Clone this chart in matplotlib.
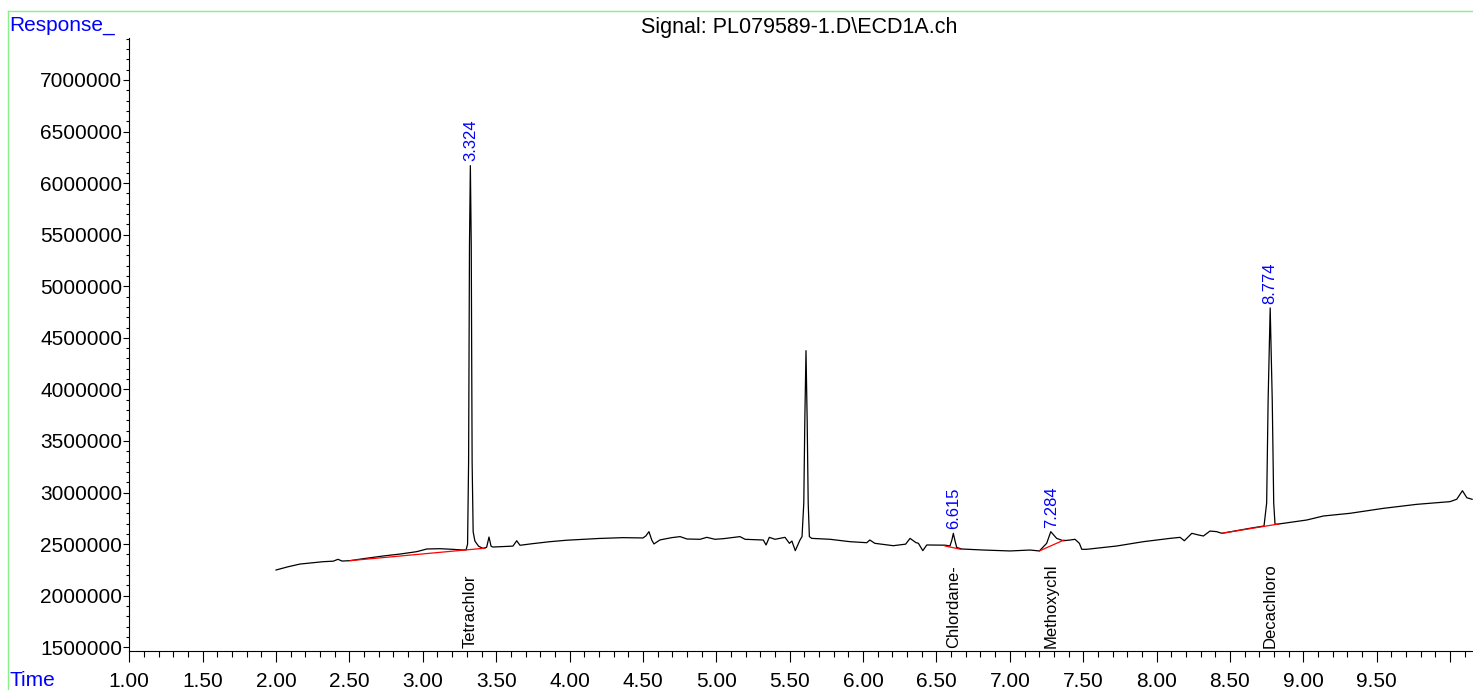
import numpy as np
import matplotlib.pyplot as plt
from matplotlib.lines import Line2D
from matplotlib.ticker import MultipleLocator, FixedLocator

plt.rcParams['font.family'] = ['Liberation Sans', 'DejaVu Sans']

# trace (time in min, response)
time = [2.000, 2.080, 2.163, 2.240, 2.322, 2.390, 2.422, 2.450, 2.504, 2.600,
        2.729, 2.850, 2.958, 3.027, 3.117, 3.200, 3.274, 3.295, 3.305, 3.312,
        3.318, 3.324, 3.330, 3.336, 3.343, 3.355, 3.380, 3.410, 3.435, 3.451,
        3.465, 3.478, 3.550, 3.614, 3.640, 3.662, 3.750, 3.867, 3.980, 4.092,
        4.200, 4.364, 4.500, 4.520, 4.541, 4.560, 4.575, 4.616, 4.696, 4.753,
        4.800, 4.889, 4.935, 4.991, 5.048, 5.161, 5.196, 5.320, 5.339, 5.361,
        5.400, 5.434, 5.468, 5.498, 5.515, 5.538, 5.570, 5.584, 5.596, 5.603,
        5.611, 5.619, 5.626, 5.634, 5.650, 5.775, 5.910, 6.025, 6.046, 6.080,
        6.206, 6.290, 6.320, 6.360, 6.377, 6.407, 6.434, 6.559, 6.592, 6.605,
        6.615, 6.625, 6.638, 6.672, 6.820, 7.001, 7.138, 7.201, 7.251, 7.279,
        7.319, 7.364, 7.410, 7.444, 7.474, 7.490, 7.524, 7.728, 7.910, 8.092,
        8.160, 8.189, 8.240, 8.285, 8.319, 8.364, 8.410, 8.444, 8.637, 8.732,
        8.750, 8.760, 8.774, 8.788, 8.798, 8.807, 8.830, 9.023, 9.137, 9.318,
        9.545, 9.773, 9.999, 10.045, 10.084, 10.114, 10.150]
response = [2249500, 2280000, 2307000, 2318000, 2330000, 2335000, 2353000, 2336000, 2340000, 2360000,
            2385000, 2405000, 2427000, 2453000, 2456000, 2450000, 2443000, 2445000, 2500000, 3300000,
            5400000, 6170000, 5400000, 3300000, 2620000, 2530000, 2480000, 2459000, 2470000, 2569000,
            2480000, 2472000, 2477000, 2481000, 2533000, 2489000, 2505000, 2524000, 2538000, 2547000,
            2555000, 2563000, 2560000, 2580000, 2621000, 2540000, 2502000, 2541000, 2563000, 2573000,
            2550000, 2547000, 2566000, 2547000, 2553000, 2573000, 2547000, 2540000, 2492000, 2566000,
            2547000, 2556000, 2566000, 2508000, 2530000, 2437000, 2540000, 2573000, 2900000, 3700000,
            4376000, 3700000, 2900000, 2573000, 2556000, 2547000, 2524000, 2514000, 2540000, 2508000,
            2485000, 2500000, 2556000, 2515000, 2508000, 2437000, 2492000, 2490000, 2482000, 2540000,
            2605000, 2540000, 2468000, 2453000, 2443000, 2434000, 2443000, 2434000, 2508000, 2621000,
            2556000, 2533000, 2540000, 2547000, 2508000, 2450000, 2450000, 2482000, 2524000, 2556000,
            2566000, 2533000, 2605000, 2589000, 2579000, 2627000, 2621000, 2605000, 2654000, 2676000,
            2900000, 3900000, 4790000, 3900000, 2900000, 2692000, 2695000, 2734000, 2773000, 2799000,
            2847000, 2886000, 2912000, 2935000, 3018000, 2950000, 2935000]

# integration baselines (start t, start y, end t, end y)
base_t0 = [2.504, 6.559, 7.201, 8.444]
base_y0 = [2340000, 2482000, 2434000, 2605000]
base_t1 = [3.424, 6.666, 7.369, 8.830]
base_y1 = [2461000, 2450000, 2540000, 2695000]

# labelled peaks
peak_rt = [3.324, 6.615, 7.284, 8.774]
peak_top = [6170000, 2605000, 2621000, 4790000]
peak_lbl = ['3.324', '6.615', '7.284', '8.774']
compounds = ['Tetrachlor', 'Chlordane-', 'Methoxychl', 'Decachloro']

W, H = 1473, 690
fig = plt.figure(figsize=(W / 100, H / 100), dpi=100)
ax = fig.add_axes([129.3 / W, (H - 650.7) / H, 1 - 129.3 / W, (650.7 - 38) / H])

ax.plot(time, response, color='black', lw=0.9)
for i in range(len(base_t0)):
    ax.plot([base_t0[i], base_t1[i]], [base_y0[i], base_y1[i]], color='red', lw=0.9)

for t, top, lbl in zip(peak_rt, peak_top, peak_lbl):
    ax.annotate(lbl, (t, top), xytext=(0, 3), textcoords='offset points',
                rotation=90, ha='center', va='bottom', color='blue', fontsize=12)
for t, name in zip(peak_rt, compounds):
    ax.text(t, 0.004, name, transform=ax.get_xaxis_transform(), rotation=90,
            ha='center', va='bottom', color='black', fontsize=12)

ax.set_xlim(1.0, 10.156)
ax.set_ylim(1467000, 7407000)

xmaj = np.arange(1.0, 10.01, 0.5)
ax.xaxis.set_major_locator(FixedLocator(xmaj))
ax.set_xticklabels(['%.2f' % v if v < 9.9 else '' for v in xmaj])
ax.xaxis.set_minor_locator(MultipleLocator(0.1))
ax.yaxis.set_major_locator(MultipleLocator(500000))
ax.yaxis.set_minor_locator(MultipleLocator(100000))
ax.yaxis.set_major_formatter(plt.FuncFormatter(lambda v, p: '%d' % v))

ax.tick_params(axis='x', which='major', length=8, width=0.8, pad=7, labelsize=15)
ax.tick_params(axis='x', which='minor', length=4, width=0.8)
ax.tick_params(axis='y', which='major', length=4, width=0.8, pad=1, labelsize=15)
ax.tick_params(axis='y', which='minor', length=2, width=0.8)

for s in ['top', 'right']:
    ax.spines[s].set_visible(False)
for s in ['left', 'bottom']:
    ax.spines[s].set_linewidth(0.8)

# light green frame
gc = '#88f088'
fig.add_artist(Line2D([8.3 / W, 8.3 / W], [0, 1 - 11 / H], transform=fig.transFigure, color=gc, lw=1))
fig.add_artist(Line2D([8.3 / W, 1], [1 - 11 / H, 1 - 11 / H], transform=fig.transFigure, color=gc, lw=1))

fig.text(9 / W, 1 - 31 / H, 'Response_', color='blue', fontsize=15, va='baseline')
fig.text(10 / W, 1 - 686.5 / H, 'Time', color='blue', fontsize=15, va='baseline')
fig.text(799 / W, 1 - 33 / H, 'Signal: PL079589-1.D\\ECD1A.ch', ha='center', va='baseline', fontsize=15.5)

fig.savefig('out.png', dpi=100)
